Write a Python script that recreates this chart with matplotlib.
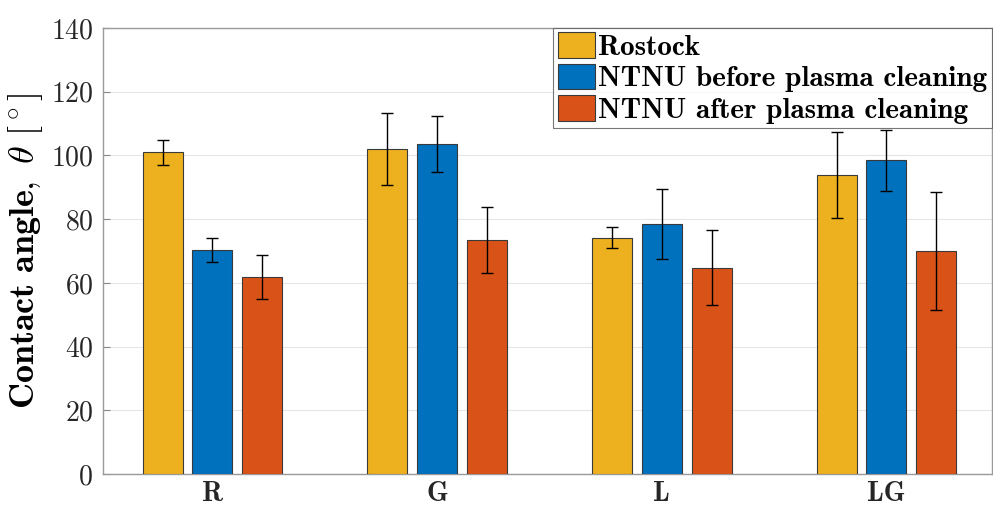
import numpy as np
import matplotlib
matplotlib.use("Agg")
import matplotlib.pyplot as plt

plt.rcParams['mathtext.fontset'] = 'cm'
plt.rcParams['axes.formatter.use_mathtext'] = True

groups = ["R", "G", "L", "LG"]
series = ["Rostock", "NTNU before plasma cleaning", "NTNU after plasma cleaning"]
colors = ["#EDB120", "#0072BD", "#D95319"]

rostock = [101.0, 102.0, 74.2, 93.9]
rostock_err = [4.0, 11.4, 3.2, 13.4]
before = [70.3, 103.6, 78.5, 98.5]
before_err = [3.8, 8.7, 11.0, 9.6]
after = [61.8, 73.4, 64.8, 70.0]
after_err = [6.8, 10.3, 11.7, 18.4]

values = [rostock, before, after]
errors = [rostock_err, before_err, after_err]

fig = plt.figure(figsize=(9.93, 5.07), dpi=100)
ax = fig.add_axes([103 / 993, 1 - 474 / 507, (992 - 103) / 993, (474 - 28) / 507])

x = np.arange(1, len(groups) + 1)
offset = 0.222
width = 0.178
for i, (vals, errs) in enumerate(zip(values, errors)):
    xs = x + (i - 1) * offset
    ax.bar(xs, vals, width, color=colors[i], edgecolor="#3a3a3a", linewidth=0.8,
           label=series[i], zorder=3)
    ax.errorbar(xs, vals, yerr=errs, fmt="none", ecolor="black", elinewidth=1.0,
                capsize=4, capthick=1.0, zorder=4)

ax.set_xlim(0.513, 4.47)
ax.set_ylim(0, 140)
ax.set_yticks(np.arange(0, 141, 20))
ax.set_xticks(x)
ax.set_xticklabels(groups, fontfamily="cmb10", fontsize=20)
for lab in ax.get_yticklabels():
    lab.set_fontfamily("cmr10")
    lab.set_fontsize(20)
ax.tick_params(axis="y", direction="in", length=5, color="#888888", pad=7, labelcolor="#262626")
ax.tick_params(axis="x", length=0, pad=5, labelcolor="#262626")
ax.yaxis.grid(True, color="#e6e6e6", linewidth=0.8, zorder=0)
ax.set_axisbelow(True)
for s in ax.spines.values():
    s.set_color("#9a9a9a")
    s.set_linewidth(1.0)

ax.set_ylabel(r"$\mathbf{Contact\ angle,}\ \theta\ [{}^\circ]$", fontsize=26, labelpad=4)

leg = ax.legend(loc="upper right", prop={"family": "cmb10", "size": 21},
                frameon=True, fancybox=False, edgecolor="#555555",
                borderaxespad=0, handlelength=1.3, handleheight=0.95,
                handletextpad=0.1, labelspacing=0.1, borderpad=0.15)
leg.get_frame().set_linewidth(0.8)

fig.savefig("out.png", dpi=100)
